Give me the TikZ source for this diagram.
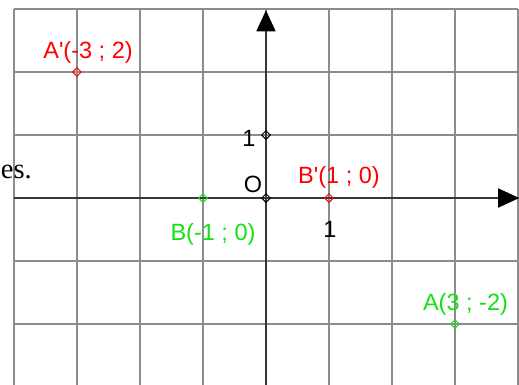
\documentclass[tikz,border=0pt]{standalone}
\usepackage{fontspec}
\setmainfont{Liberation Sans}
\newfontfamily\timesfont{Liberation Serif}
\usetikzlibrary{positioning, arrows.meta, shapes.geometric}
\definecolor{ptred}{RGB}{255,0,0}
\definecolor{ptgreen}{RGB}{20,225,20}
\definecolor{gridgray}{RGB}{140,140,140}
\definecolor{axisgray}{RGB}{55,55,55}

\begin{document}
\begin{tikzpicture}[
    x=63pt, y=63pt,
    every node/.style={font=\fontsize{23.5}{28}\selectfont, inner sep=0pt},
    gridline/.style={draw=gridgray, line width=1.4pt, step=63pt},
    axis/.style={-{Triangle[length=21pt, width=19pt, color=black]}, draw=axisgray, line width=1.5pt},
    marker/.style={diamond, draw, line width=1pt, minimum size=9pt, inner sep=0pt},
    lbl/.style={anchor=base}
]
\useasboundingbox (-4.222,-2.968) rectangle (4.016,3.143);

% Grid
\draw[gridline] (-4,-2.968) grid (4,3);

% Axes
\coordinate (xstart) at (-4,0);
\coordinate (xend) at (4.02,0);
\coordinate (ystart) at (0,-2.968);
\coordinate (yend) at (0,2.98);

\draw[axis] (xstart) -- (xend);

\draw[axis] (ystart) -- (yend);

% Points
\node[marker, draw=black] (O) at (0,0) {};

\node[marker, draw=black] (unit) at (0,1) {};

\node[marker, draw=ptred] (Ap) at (-3,2) {};

\node[marker, draw=ptred] (Bp) at (1,0) {};

\node[marker, draw=ptgreen] (B) at (-1,0) {};

\node[marker, draw=ptgreen] (A) at (3,-2) {};

% Labels
\node[lbl, text=ptred] (Aplabel) at (-2.825,2.222) {A\textquotesingle(-3 ; 2)};

\node[lbl, text=ptred] (Bplabel) at (1.159,0.238) {B\textquotesingle(1 ; 0)};

\node[lbl, text=ptgreen] (Blabel) at (-0.841,-0.667) {B(-1 ; 0)};

\node[lbl, text=ptgreen] (Alabel) at (3.167,-1.778) {A(3 ; -2)};

\node[lbl] (xone) at (1.016,-0.619) {1};

\node[lbl] (yone) at (-0.27,0.81) {1};

\node[lbl] (olabel) at (-0.206,0.095) {O};

\node[anchor=base west, font=\timesfont\fontsize{28.5}{34}\selectfont] (es) at (-4.21,0.317) {es.};

\end{tikzpicture}
\end{document}
